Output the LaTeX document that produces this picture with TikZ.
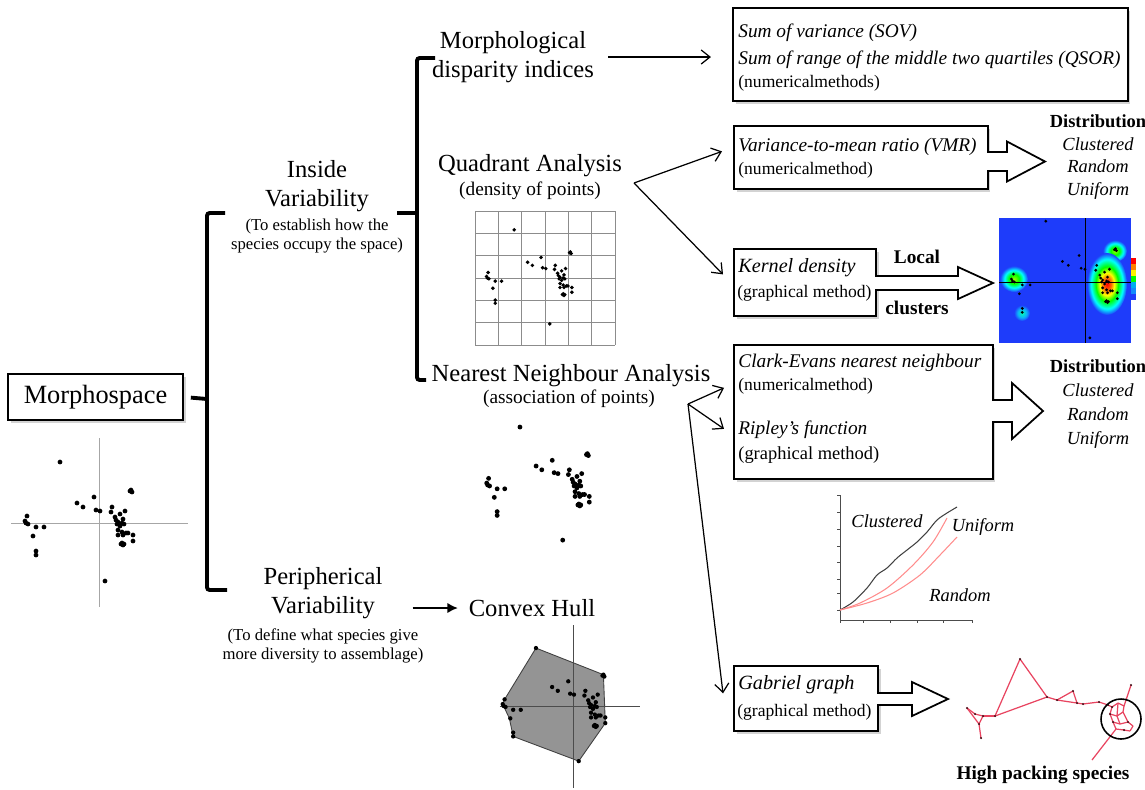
\documentclass[tikz,border=0pt]{standalone}
\usepackage{fontspec}
\setmainfont{Liberation Serif}
\usetikzlibrary{arrows.meta,shadows}
\definecolor{heatblue}{RGB}{30,60,250}
\definecolor{gabred}{RGB}{232,68,96}
\newcommand{\fsz}[2]{\fontsize{#1}{#2}\selectfont}
\pgfdeclareradialshading{hotblob}{\pgfpoint{0bp}{0bp}}{color(0bp)=(red); color(5bp)=(red!60!yellow); color(9bp)=(yellow); color(14bp)=(green); color(20bp)=(cyan); color(25bp)=(heatblue); color(50bp)=(heatblue)}
\pgfdeclareradialshading{warmblob}{\pgfpoint{0bp}{0bp}}{color(0bp)=(yellow!60!green); color(9bp)=(green); color(17bp)=(cyan); color(25bp)=(heatblue); color(50bp)=(heatblue)}
\pgfdeclareradialshading{coolblob}{\pgfpoint{0bp}{0bp}}{color(0bp)=(cyan!70!green); color(14bp)=(cyan!60!heatblue); color(25bp)=(heatblue); color(50bp)=(heatblue)}
\def\cloud{-39/-61, -5/-26, -22/-20, -16/-16, -3/-13, 1/-12, 31/-32, 32/-33, 33/-31,
  13/-16, 12/-11, 26/-12, 16/-6, 21/-9, 19/-1, 24/-4, 23/0, 18/1, 25/1, 17/-3, 21/3,
  -72/-7, -74/-2, -73/0, -71/1, -63/4, -55/4, -66/13, -63/28, -63/32,
  19/7, 23/9, 27/10, 29/10, 19/12, 24/12, 34/12, 34/18, 22/21, 24/22, 25/21, 23/20, 6/58}
\newcommand{\fatarrow}[6]{%
  \fill[white] ({#1-2},{#4-#5}) rectangle (#2,{#4+#5});
  \draw[fatline] (#1,{#4-#5}) -- (#2,{#4-#5}) -- (#2,{#4-#6}) -- (#3,#4)
    -- (#2,{#4+#6}) -- (#2,{#4+#5}) -- (#1,{#4+#5});}

\begin{document}
\begin{tikzpicture}[
  x=0.02cm, y=-0.02cm,
  lbl/.style={font=\fsz{14}{16.5}, align=center, inner sep=0pt},
  note/.style={font=\fsz{9.5}{11}, align=center, inner sep=0pt},
  sub/.style={font=\fsz{11}{13}, inner sep=0pt},
  meth/.style={font=\fsz{10}{12}, anchor=west, inner sep=0pt},
  ital/.style={font=\fsz{11}{13}\itshape, anchor=west, inner sep=0pt},
  dist/.style={font=\fsz{10.5}{12.8}\itshape, align=center, inner sep=0pt},
  hot/.style={font=\fsz{11}{13}\bfseries, inner sep=0pt},
  box/.style={draw, line width=1pt, fill=white, inner sep=0pt, anchor=north west,
    drop shadow={shadow xshift=1.5pt, shadow yshift=-1.5pt, opacity=0.35}},
  bracket/.style={line width=2.2pt, rounded corners=1.5pt},
  thinarrow/.style={-{Straight Barb[length=5pt,width=8pt]}, line width=0.7pt},
  fatline/.style={line width=1pt, line join=miter},
  gridline/.style={black!45, line width=0.4pt},
  gabedge/.style={gabred, line width=0.7pt}
]
\useasboundingbox (0,0) rectangle (1145,789);

\node[box, anchor=center, font=\fsz{15}{18}, minimum width=3.5cm, minimum height=0.92cm] (morpho) at (95.5,397) {Morphospace};
\node[lbl] (inside) at (317,186) {Inside\\Variability};
\node[note] (insidenote) at (317,236) {(To establish how the\\species occupy the space)};
\node[lbl] (peri) at (323,593) {Peripherical\\Variability};
\node[note] (perinote) at (323,646) {(To define what species give\\more diversity to assemblage)};
\node[lbl] (hull) at (532,608) {Convex Hull};
\node[lbl] (morphdisp) at (513,57) {Morphological\\disparity indices};
\node[lbl] (quad) at (530,166) {Quadrant Analysis};
\node[sub] (quadsub) at (530,191) {(density of points)};
\node[lbl] (near) at (571,376) {Nearest Neighbour Analysis};
\node[sub] (nearsub) at (569,399) {(association of points)};

\draw[bracket] (225,213) -- (207,213) -- (207,590) -- (227,590);
\draw[bracket, shorten >=4pt] (207,399) -- (morpho.east);
\draw[bracket] (435,58) -- (417,58) -- (417,380) -- (426,380);
\draw[bracket] (397,213) -- (417,213);
\draw[-{Latex[length=6pt,width=6pt]}, line width=1.6pt, shorten <=17pt, shorten >=6pt] (peri.east |- hull.west) -- (hull.west);

\node[box, minimum width=7.9cm, minimum height=1.86cm] (sov) at (732,7) {};
\node[ital] (sova) at (738,33) {Sum of variance (SOV)};
\node[ital] (sovb) at (738,60) {Sum of range of the middle two quartiles (QSOR)};
\node[meth] (sovc) at (738,83) {(numericalmethods)};
\draw[thinarrow, shorten <=8pt, shorten >=12pt] (morphdisp.east) -- (morphdisp.east -| sov.west);

\node[box, minimum width=5.08cm, minimum height=1.26cm] (vmr) at (733,125) {};
\node[ital] (vmra) at (738,147) {Variance-to-mean ratio (VMR)};
\node[meth] (vmrb) at (738,170) {(numericalmethod)};
\fatarrow{987}{1007}{1045}{161.5}{9.5}{20}
\node[dist] (dista) at (1098,157) {\textbf{\upshape Distribution}\\Clustered\\Random\\Uniform};

\node[box, minimum width=2.84cm, minimum height=1.34cm] (kernel) at (733,248) {};
\node[ital, font=\fsz{11.5}{13}\itshape] (kernela) at (738,268) {Kernel density};
\node[meth] (kernelb) at (737,293) {(graphical method)};
\fatarrow{875}{958}{993}{283}{7}{16}
\node[hot] (local) at (917,257) {Local};
\node[hot] (clusters) at (917,308) {clusters};

\coordinate (qsplit) at (634,183);
\draw[thinarrow] (qsplit) -- ([shift={(-11,-6)}]vmr.west);
\draw[thinarrow] (qsplit) -- ([shift={(-10,-8)}]kernel.west);

\node[box, minimum width=5.18cm, minimum height=2.68cm] (clark) at (733,344) {};
\node[ital] (clarka) at (738,363) {Clark-Evans nearest neighbour};
\node[meth] (clarkb) at (738,386) {(numericalmethod)};
\node[ital] (clarkc) at (738,430) {Ripley's function};
\node[meth, font=\fsz{10.5}{12}] (clarkd) at (738,455) {(graphical method)};
\fatarrow{992}{1012}{1043}{411}{11}{28}
\node[dist, font=\fsz{10.5}{13.8}\itshape] (distb) at (1098,404) {\textbf{\upshape Distribution}\\Clustered\\Random\\Uniform};

\node[box, minimum width=2.88cm, minimum height=1.3cm] (gabriel) at (733,665) {};
\node[ital, font=\fsz{11.5}{13}\itshape] (gabriela) at (738,685) {Gabriel graph};
\node[meth] (gabrielb) at (737,712) {(graphical method)};
\fatarrow{877}{912}{948}{699}{6}{17}

\coordinate (nsplit) at (688,404);
\draw[thinarrow] (nsplit) -- ([shift={(-9,-24)}]clark.west);
\draw[thinarrow] (nsplit) -- ([shift={(-9,17)}]clark.west);
\draw[thinarrow] (nsplit) -- ([shift={(-10,-5)}]gabriel.west);

\draw[black!35, line width=0.5pt] (99,438) -- (99,607);
\draw[black!35, line width=0.5pt] (11,523) -- (188,523);
\begin{scope}[shift={(99,523)}]
\foreach \px/\py in \cloud { \fill (\px,\py) circle (1.35pt); }
\end{scope}

\foreach \i in {0,...,6} {
  \draw[gridline] ({475+\i*23.333},211) -- ({475+\i*23.333},345);
  \draw[gridline] (475,{211+\i*22.333}) -- (615,{211+\i*22.333});
}
\begin{scope}[shift={(545,278)}, scale=0.79]
\foreach \px/\py in \cloud { \fill (\px,\py) circle (1.4pt); }
\end{scope}

\begin{scope}[shift={(557,485)}, scale=0.95]
\foreach \px/\py in \cloud { \fill (\px,\py) circle (1.45pt); }
\end{scope}

\begin{scope}[shift={(573,706)}, scale=0.95]
\filldraw[fill=black!42, draw=black!75, line width=0.5pt] (-39,-61) -- (32,-33) -- (34,18) -- (6,58)
  -- (-63,32) -- (-67,13) -- (-74,-2) -- (-72,-7) -- cycle;
\draw[black!70, line width=0.4pt] (0,-85) -- (0,86);
\draw[black!70, line width=0.4pt] (-77,0) -- (70,0);
\foreach \px/\py in \cloud { \fill (\px,\py) circle (1.3pt); }
\end{scope}

\begin{scope}
\clip (999,218) rectangle (1131,343);
\fill[heatblue] (999,218) rectangle (1131,343);
\shade[shading=warmblob] (1014,279) ellipse (14 and 13);
\shade[shading=warmblob] (1115,251) ellipse (12 and 11);
\shade[shading=coolblob] (1022,313) ellipse (8 and 8);
\shade[shading=hotblob] (1107,284) ellipse (20 and 31);
\draw[black, line width=0.5pt] (1085,218) -- (1085,343);
\draw[black, line width=0.5pt] (999,282) -- (1131,282);
\begin{scope}[shift={(1084,281)}, scale=0.98]
\foreach \px/\py in \cloud { \fill (\px,\py) circle (0.9pt); }
\end{scope}
\end{scope}
\foreach \c [count=\k from 0] in {red, orange, yellow, green, cyan, heatblue!60!cyan, heatblue}
  { \fill[\c] (1131,{258+\k*6}) rectangle (1136,{264+\k*6}); }

\draw[black!70, line width=0.4pt] (840,495) -- (840,620) -- (972,620);
\foreach \t in {495,512,529,546,562,579,593,610} { \draw[black!70, line width=0.3pt] (837,\t) -- (840,\t); }
\foreach \t in {840,863,890,917,943,972} { \draw[black!70, line width=0.3pt] (\t,620) -- (\t,623); }
\draw[black!75, line width=0.6pt] plot[smooth] coordinates {(840,610) (853,602) (867,588) (877,575) (887,568) (897,558) (907,550) (917,542) (927,532) (937,520) (947,513) (957,507)};
\draw[red!45, line width=0.6pt] plot[smooth] coordinates {(840,610) (860,603) (887,588) (913,565) (933,542) (947,518)};
\draw[red!45, line width=0.6pt] plot[smooth] coordinates {(840,610) (867,603) (893,593) (920,575) (940,555) (957,537)};
\node[dist] (ripclus) at (887,521) {Clustered};
\node[dist] (ripuni) at (983,527) {Uniform};
\node[dist] (ripran) at (960,595) {Random};

\foreach \n/\gx/\gy in {g1/967/708, g2/975/714, g3/983/716, g4/995/716, g5/979/724, g6/981/738,
  g7/1020/659, g8/1047/697, g9/1057/700, g10/1073/691, g11/1077/703, g12/1083/704,
  g13/1099/702, g14/1108/705, g15/1131/685, g16/1092/760,
  c1/1112/707, c2/1118/703, c3/1124/706, c4/1110/714, c5/1117/716, c6/1123/712,
  c7/1113/722, c8/1120/724, c9/1128/722, c10/1133/726, c11/1116/729, c12/1124/730, c13/1130/731}
  { \coordinate (\n) at (\gx,\gy); }
\foreach \a/\b in {g1/g2, g2/g3, g1/g5, g5/g3, g5/g6, g3/g4, g4/g7, g7/g8, g4/g8, g8/g9,
  g9/g10, g10/g11, g9/g11, g11/g12, g12/g13, g13/g14, g14/c1, g15/c3, g16/c11,
  c1/c2, c2/c3, c1/c4, c4/c5, c5/c6, c6/c3, c4/c7, c7/c8, c8/c9, c9/c10, c6/c9,
  c7/c11, c11/c12, c12/c13, c13/c10, c5/c8, c2/c5}
  { \draw[gabedge] (\a) -- (\b); }
\foreach \n in {g1,g2,g3,g4,g5,g6,g7,g8,g9,g10,g11,g12,g13,g14,g15,c1,c4,c7,c9,c12}
  { \fill[black!70!gabred] (\n) circle (0.7pt); }
\draw[line width=0.9pt] (1121,719) circle (20);
\node[hot] (packing) at (1043,775) {High packing species};
\end{tikzpicture}
\end{document}
